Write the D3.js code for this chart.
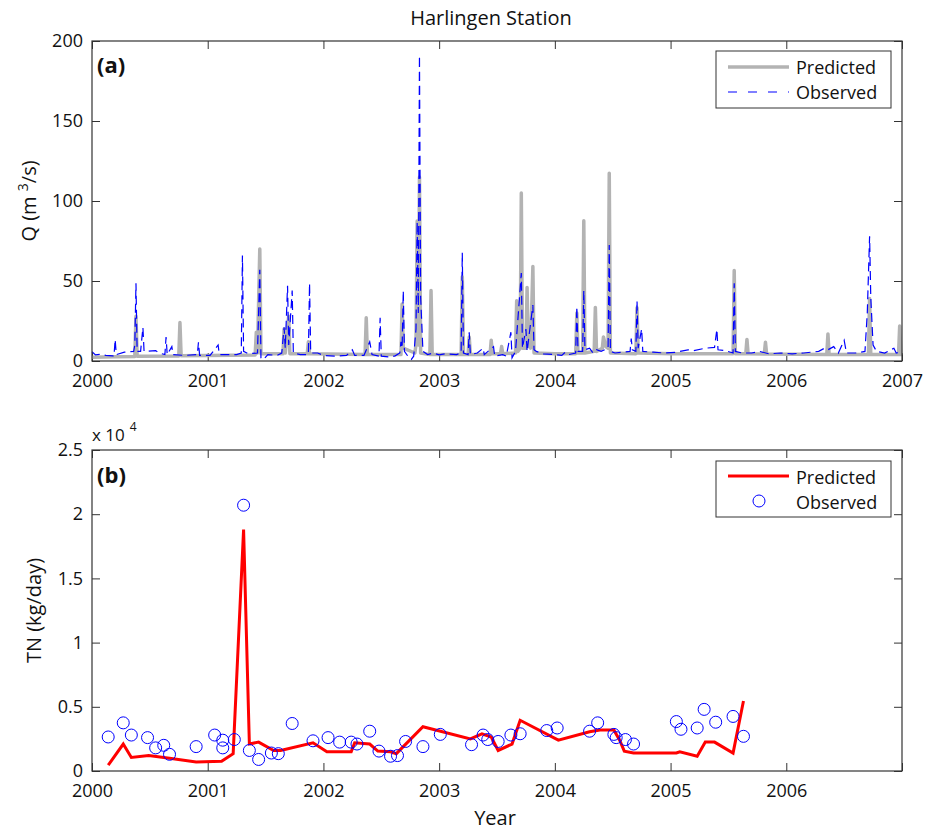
<!DOCTYPE html>
<html>
<head>
<meta charset="utf-8">
<script src="https://cdn.jsdelivr.net/npm/d3@7"></script>
<style>
  body { margin: 0; background: #fff; }
  svg text { font-family: "Open Sans", "Noto Sans", sans-serif; fill: #111; }
</style>
</head>
<body>
<svg id="chart" width="933" height="832"></svg>
<script>
// ---- panel (a): discharge Q, [decimal year, m3/s] ----
let q_predicted = [
  [2000.00, 2.3], [2000.20, 2.6], [2000.37, 2.8], [2000.38, 28], [2000.39, 3.0],
  [2000.75, 3.2], [2000.76, 24], [2000.77, 3.3], [2001.00, 3.4], [2001.41, 3.8],
  [2001.42, 18], [2001.43, 5], [2001.45, 70], [2001.46, 4.5], [2001.65, 4.5],
  [2001.66, 20], [2001.67, 5], [2001.70, 28], [2001.71, 4.5], [2001.86, 4.5],
  [2001.87, 12], [2001.88, 4.5], [2002.20, 4.2], [2002.36, 4], [2002.37, 27],
  [2002.38, 4], [2002.67, 4], [2002.68, 35.6], [2002.69, 8], [2002.79, 5],
  [2002.80, 10], [2002.81, 87.5], [2002.82, 10], [2002.83, 115], [2002.84, 5],
  [2002.92, 4], [2002.93, 44], [2002.94, 4], [2003.19, 4], [2003.20, 52.7],
  [2003.21, 4], [2003.25, 4], [2003.26, 15], [2003.27, 4], [2003.44, 4],
  [2003.45, 13], [2003.46, 4.5], [2003.53, 4.5], [2003.54, 9], [2003.55, 4.5],
  [2003.66, 5], [2003.67, 37.7], [2003.68, 6], [2003.70, 8], [2003.71, 105],
  [2003.72, 8], [2003.75, 8], [2003.76, 46], [2003.77, 10], [2003.79, 8],
  [2003.80, 32], [2003.81, 59], [2003.82, 5], [2004.00, 4.5], [2004.18, 4.5],
  [2004.19, 30], [2004.20, 5], [2004.24, 5], [2004.25, 87.7], [2004.26, 5],
  [2004.34, 6], [2004.35, 33.5], [2004.36, 6], [2004.41, 8], [2004.42, 15],
  [2004.44, 9], [2004.46, 8], [2004.47, 117.3], [2004.48, 5], [2004.70, 4.5],
  [2004.71, 33.3], [2004.72, 5], [2005.00, 4.5], [2005.54, 4.5], [2005.55, 56.5],
  [2005.56, 4.5], [2005.65, 4.5], [2005.66, 13.5], [2005.67, 4.5], [2005.81, 4.4],
  [2005.82, 11.7], [2005.83, 4.4], [2006.35, 4], [2006.36, 16.9], [2006.37, 4],
  [2006.71, 4], [2006.72, 39], [2006.73, 4], [2006.97, 4], [2006.98, 21.9],
  [2006.99, 4], [2007.00, 4]
];

let q_observed = [
  [2000.00, 5.8], [2000.03, 3.8], [2000.08, 4.2], [2000.12, 3.5], [2000.18, 3.2],
  [2000.19, 3], [2000.20, 13.5], [2000.21, 4], [2000.28, 5.5], [2000.36, 6],
  [2000.37, 10], [2000.38, 48.6], [2000.39, 6], [2000.42, 6], [2000.44, 21],
  [2000.45, 6], [2000.55, 6.5], [2000.58, 5], [2000.63, 4], [2000.64, 15],
  [2000.65, 4], [2000.69, 9], [2000.70, 4], [2000.80, 3.5], [2000.91, 4],
  [2000.92, 11.7], [2000.93, 3.5], [2001.02, 3.5], [2001.09, 10], [2001.10, 4],
  [2001.25, 4], [2001.29, 5], [2001.30, 66], [2001.31, 6], [2001.35, 4.5],
  [2001.43, 5], [2001.45, 57], [2001.46, 2], [2001.48, 0.8], [2001.52, 4],
  [2001.60, 3.5], [2001.64, 5], [2001.66, 21], [2001.67, 8], [2001.69, 47],
  [2001.70, 10], [2001.73, 44], [2001.74, 5], [2001.80, 4], [2001.87, 4],
  [2001.88, 48.6], [2001.89, 5], [2001.95, 5], [2002.00, 3.5], [2002.10, 3],
  [2002.20, 3.5], [2002.25, 7], [2002.27, 3.5], [2002.35, 3.5], [2002.40, 12],
  [2002.42, 4], [2002.48, 3], [2002.49, 27], [2002.50, 3], [2002.58, 2.5],
  [2002.62, 3.2], [2002.66, 5], [2002.67, 12], [2002.68, 8], [2002.69, 44],
  [2002.70, 6], [2002.74, 2], [2002.76, 1], [2002.78, 3], [2002.80, 20],
  [2002.81, 87], [2002.82, 30], [2002.83, 191], [2002.84, 40], [2002.86, 6],
  [2002.90, 4], [2002.95, 5], [2003.00, 3.8], [2003.05, 4.5], [2003.15, 4],
  [2003.19, 5], [2003.20, 67.7], [2003.21, 5], [2003.25, 4], [2003.26, 18],
  [2003.27, 4], [2003.33, 5], [2003.38, 8], [2003.39, 4], [2003.47, 9],
  [2003.48, 3], [2003.55, 4], [2003.58, 3], [2003.62, 18], [2003.63, 2],
  [2003.66, 6], [2003.71, 55], [2003.72, 8], [2003.75, 20], [2003.76, 6],
  [2003.81, 35], [2003.82, 7], [2003.84, 6], [2003.90, 4.5], [2004.00, 4],
  [2004.06, 3.5], [2004.09, 5.5], [2004.12, 4], [2004.18, 5], [2004.19, 34],
  [2004.20, 6], [2004.24, 6], [2004.25, 44], [2004.26, 7], [2004.30, 8],
  [2004.33, 5], [2004.36, 7], [2004.40, 6], [2004.46, 8], [2004.47, 72.5],
  [2004.48, 6], [2004.52, 5], [2004.58, 5.5], [2004.65, 6], [2004.66, 14],
  [2004.67, 7], [2004.70, 6], [2004.71, 37.7], [2004.72, 8], [2004.75, 20],
  [2004.76, 6], [2004.85, 5.5], [2004.95, 5], [2005.05, 5.5], [2005.15, 7],
  [2005.20, 6.5], [2005.30, 8], [2005.38, 8.5], [2005.40, 19.8], [2005.41, 7],
  [2005.47, 6.5], [2005.54, 5], [2005.55, 48.6], [2005.56, 6], [2005.62, 5],
  [2005.70, 5], [2005.77, 6], [2005.85, 4.5], [2005.95, 5], [2006.05, 4.5],
  [2006.15, 5], [2006.28, 6], [2006.33, 8], [2006.36, 7], [2006.41, 9],
  [2006.45, 5], [2006.50, 13], [2006.52, 5], [2006.60, 5], [2006.68, 6],
  [2006.70, 30], [2006.72, 78], [2006.73, 40], [2006.75, 10], [2006.78, 6],
  [2006.85, 5], [2006.93, 8], [2006.95, 5], [2007.00, 6]
];

// ---- panel (b): total nitrogen load, [decimal year, kg/day] ----
let tn_predicted = [
  [2000.14, 450], [2000.27, 2100], [2000.34, 1050], [2000.49, 1200], [2000.67, 1000],
  [2000.90, 700], [2001.12, 750], [2001.22, 1350], [2001.31, 18800], [2001.36, 2100],
  [2001.44, 2250], [2001.57, 1600], [2001.63, 1600], [2001.91, 2200], [2002.03, 1500],
  [2002.24, 1500], [2002.27, 2200], [2002.40, 2100], [2002.47, 1550], [2002.58, 1500],
  [2002.63, 1350], [2002.86, 3450], [2003.27, 2500], [2003.37, 2900], [2003.45, 2650],
  [2003.51, 1600], [2003.63, 2100], [2003.70, 3950], [2004.03, 2400], [2004.30, 3050],
  [2004.39, 3200], [2004.51, 3200], [2004.56, 2400], [2004.60, 1550], [2004.68, 1400],
  [2005.05, 1400], [2005.08, 1500], [2005.23, 1150], [2005.30, 2250], [2005.38, 2250],
  [2005.54, 1400], [2005.63, 5450]
];

let tn_observed = [
  [2000.14, 2650], [2000.27, 3750], [2000.34, 2800], [2000.48, 2600], [2000.55, 1800],
  [2000.62, 2000], [2000.67, 1300], [2000.90, 1900], [2001.06, 2800], [2001.13, 2400],
  [2001.13, 1800], [2001.23, 2450], [2001.31, 20700], [2001.36, 1600], [2001.44, 900],
  [2001.55, 1400], [2001.61, 1350], [2001.73, 3700], [2001.91, 2350], [2002.04, 2600],
  [2002.14, 2250], [2002.24, 2250], [2002.29, 2100], [2002.40, 3100], [2002.48, 1550],
  [2002.58, 1150], [2002.64, 1200], [2002.71, 2300], [2002.86, 1900], [2003.01, 2850],
  [2003.28, 2050], [2003.38, 2800], [2003.42, 2450], [2003.51, 2300], [2003.62, 2800],
  [2003.70, 2900], [2003.93, 3150], [2004.02, 3350], [2004.30, 3100], [2004.37, 3750],
  [2004.51, 2850], [2004.53, 2600], [2004.61, 2450], [2004.68, 2100], [2005.05, 3850],
  [2005.09, 3250], [2005.23, 3350], [2005.29, 4800], [2005.39, 3800], [2005.54, 4250],
  [2005.63, 2700]
];

let years_a = [2000, 2001, 2002, 2003, 2004, 2005, 2006, 2007];
let years_b = [2000, 2001, 2002, 2003, 2004, 2005, 2006];
let q_ticks = [0, 50, 100, 150, 200];
let tn_ticks = [0, 5000, 10000, 15000, 20000, 25000];

let svg = d3.select('#chart');

let left = 92, right = 902;
let panelA = {top: 41, bottom: 361};
let panelB = {top: 450, bottom: 771};

let x = d3.scaleLinear().domain([2000, 2007]).range([left, right]);
let yA = d3.scaleLinear().domain([0, 200]).range([panelA.bottom, panelA.top]);
let yB = d3.scaleLinear().domain([0, 25000]).range([panelB.bottom, panelB.top]);

let fontSize = '18px';

// draws a boxed MATLAB style axes with inward ticks
function frame(p, yScale, yTicks, yFmt, xLabels) {
    let g = svg.append('g');

    g.append('g')
        .attr('transform', 'translate(0,' + p.bottom + ')')
        .call(d3.axisBottom(x).tickValues(years_a).tickSize(-8).tickPadding(13)
            .tickFormat(d => xLabels.includes(d) ? d : ''));
    g.append('g')
        .attr('transform', 'translate(0,' + p.top + ')')
        .call(d3.axisTop(x).tickValues(years_a).tickSize(-8).tickFormat(''));
    g.append('g')
        .attr('transform', 'translate(' + left + ',0)')
        .call(d3.axisLeft(yScale).tickValues(yTicks).tickSize(-8).tickPadding(9).tickFormat(yFmt));
    g.append('g')
        .attr('transform', 'translate(' + right + ',0)')
        .call(d3.axisRight(yScale).tickValues(yTicks).tickSize(-8).tickFormat(''));

    g.selectAll('.domain').remove();
    g.selectAll('.tick line').attr('stroke', '#333');
    g.selectAll('.tick text')
        .style('font-size', fontSize)
        .style('font-family', '"Open Sans", sans-serif')
        .attr('fill', '#111');

    return g;
}

function box(p) {
    svg.append('rect')
        .attr('x', left)
        .attr('y', p.top)
        .attr('width', right - left)
        .attr('height', p.bottom - p.top)
        .attr('fill', 'none')
        .attr('stroke', '#333')
        .attr('stroke-width', 1.2);
}

// ---- panel (a) ----
frame(panelA, yA, q_ticks, d3.format('d'), years_a);

let lineA = d3.line().x(d => x(d[0])).y(d => yA(d[1]));

svg.append('path')
    .datum(q_predicted)
    .attr('d', lineA)
    .attr('fill', 'none')
    .attr('stroke', '#b3b3b3')
    .attr('stroke-width', 3.5)
    .attr('stroke-linejoin', 'round');

svg.append('path')
    .datum(q_observed)
    .attr('d', lineA)
    .attr('fill', 'none')
    .attr('stroke', '#0000ff')
    .attr('stroke-width', 1.2)
    .attr('stroke-dasharray', '9,5');

box(panelA);

svg.append('text')
    .attr('x', 491)
    .attr('y', 25)
    .attr('text-anchor', 'middle')
    .style('font-size', '20px')
    .text('Harlingen Station');

svg.append('text')
    .attr('x', 97)
    .attr('y', 73)
    .style('font-size', '22px')
    .style('font-weight', 'bold')
    .text('(a)');

let qLabel = svg.append('text')
    .attr('transform', 'translate(36,' + (panelA.top + panelA.bottom) / 2 + ') rotate(-90)')
    .attr('text-anchor', 'middle')
    .style('font-size', '20px');
qLabel.append('tspan').text('Q (m ');
qLabel.append('tspan').attr('dy', -8).style('font-size', '14px').text('3');
qLabel.append('tspan').attr('dy', 8).text('/s)');

// legend (a)
let legA = svg.append('g');
legA.append('rect')
    .attr('x', 716).attr('y', 51).attr('width', 175).attr('height', 57)
    .attr('fill', '#fff').attr('stroke', '#333').attr('stroke-width', 1);
legA.append('line')
    .attr('x1', 728).attr('x2', 789).attr('y1', 67).attr('y2', 67)
    .attr('stroke', '#b3b3b3').attr('stroke-width', 3.5);
legA.append('line')
    .attr('x1', 728).attr('x2', 789).attr('y1', 92).attr('y2', 92)
    .attr('stroke', '#0000ff').attr('stroke-width', 1.2).attr('stroke-dasharray', '9,11');
legA.append('text').attr('x', 796).attr('y', 74).style('font-size', fontSize).text('Predicted');
legA.append('text').attr('x', 796).attr('y', 99).style('font-size', fontSize).text('Observed');

// ---- panel (b) ----
frame(panelB, yB, tn_ticks, d => d / 10000, years_b);

let lineB = d3.line().x(d => x(d[0])).y(d => yB(d[1]));

svg.append('path')
    .datum(tn_predicted)
    .attr('d', lineB)
    .attr('fill', 'none')
    .attr('stroke', '#ff0000')
    .attr('stroke-width', 3)
    .attr('stroke-linejoin', 'miter');

svg.append('g')
    .selectAll('circle')
    .data(tn_observed)
    .join('circle')
    .attr('cx', d => x(d[0]))
    .attr('cy', d => yB(d[1]))
    .attr('r', 6)
    .attr('fill', 'none')
    .attr('stroke', '#0000ff')
    .attr('stroke-width', 1);

box(panelB);

svg.append('text')
    .attr('x', 97)
    .attr('y', 483)
    .style('font-size', '22px')
    .style('font-weight', 'bold')
    .text('(b)');

let mult = svg.append('text')
    .attr('x', 92)
    .attr('y', 441)
    .style('font-size', '17px');
mult.append('tspan').text('x 10');
mult.append('tspan').attr('dy', -10).attr('dx', 5).style('font-size', '12px').text('4');

svg.append('text')
    .attr('transform', 'translate(41,' + (panelB.top + panelB.bottom) / 2 + ') rotate(-90)')
    .attr('text-anchor', 'middle')
    .style('font-size', '20px')
    .text('TN (kg/day)');

svg.append('text')
    .attr('x', 495)
    .attr('y', 825)
    .attr('text-anchor', 'middle')
    .style('font-size', '20px')
    .text('Year');

// legend (b)
let legB = svg.append('g');
legB.append('rect')
    .attr('x', 716).attr('y', 461).attr('width', 175).attr('height', 56)
    .attr('fill', '#fff').attr('stroke', '#333').attr('stroke-width', 1);
legB.append('line')
    .attr('x1', 728).attr('x2', 789).attr('y1', 476).attr('y2', 476)
    .attr('stroke', '#ff0000').attr('stroke-width', 3);
legB.append('circle')
    .attr('cx', 759).attr('cy', 501).attr('r', 6)
    .attr('fill', 'none').attr('stroke', '#0000ff').attr('stroke-width', 1);
legB.append('text').attr('x', 796).attr('y', 484).style('font-size', fontSize).text('Predicted');
legB.append('text').attr('x', 796).attr('y', 509).style('font-size', fontSize).text('Observed');
</script>
</body>
</html>
